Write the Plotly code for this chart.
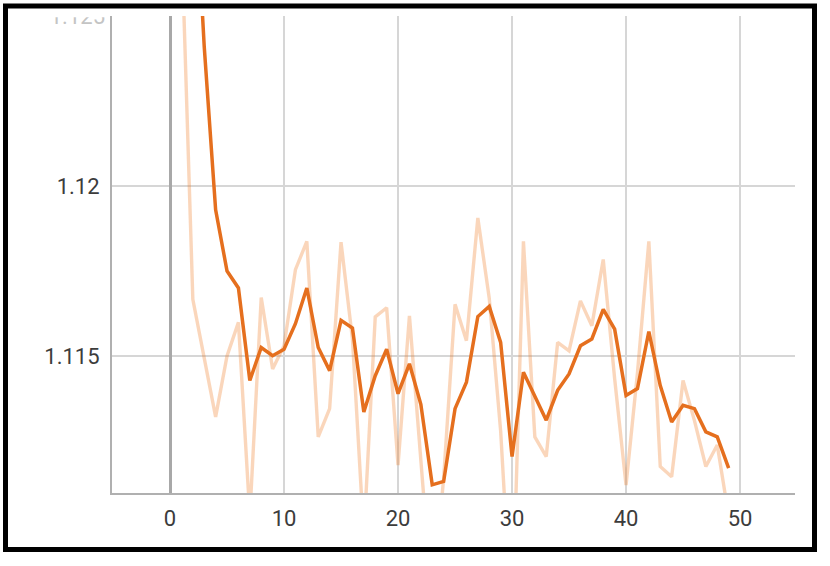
import plotly.graph_objects as go

steps = list(range(50))

raw_values = [1.1472, 1.1274, 1.11667, 1.1149, 1.11321, 1.1150, 1.11599, 1.1103, 1.11672, 1.11462,
              1.1153, 1.11754, 1.11837, 1.11262, 1.11345, 1.11835, 1.1155, 1.1097, 1.11615, 1.11642,
              1.11179, 1.11618, 1.1118, 1.1077, 1.1114, 1.11652, 1.11545, 1.11906, 1.1167, 1.1128,
              1.1070, 1.11837, 1.11262, 1.11204, 1.1154, 1.11515, 1.11662, 1.11589, 1.11784, 1.11433,
              1.1112, 1.1145, 1.11837, 1.11175, 1.11145, 1.11428, 1.1131, 1.11175, 1.11238, 1.1103]

smoothed_values = [1.1472, 1.1393, 1.1302, 1.1241, 1.1193, 1.1175, 1.1170, 1.11428, 1.11525, 1.11501,
                   1.1152, 1.11595, 1.1170, 1.11525, 1.11457, 1.11605, 1.11582, 1.11335, 1.11442, 1.1152,
                   1.11389, 1.11477, 1.11358, 1.11121, 1.11131, 1.11345, 1.11423, 1.11616, 1.11646, 1.1154,
                   1.11204, 1.11452, 1.11384, 1.11311, 1.11399, 1.11447, 1.1153, 1.1155, 1.11637, 1.11579,
                   1.11384, 1.11404, 1.11572, 1.11413, 1.11306, 1.11355, 1.11345, 1.11277, 1.11262, 1.1117]

x_ticks = [0, 10, 20, 30, 40, 50]
y_ticks = [1.115, 1.12]
y_ticks_faded = [1.125]
y_tick_labels = ["1.115", "1.12"]

W, H = 830, 566
L, R, T, B = 112, 35, 16, 73
pw, ph = W - L - R, H - T - B

def px_x(p):
    return (p - L) / pw

def px_y(p):
    return (H - B - p) / ph

fig = go.Figure()
fig.add_trace(go.Scatter(x=steps, y=raw_values, mode="lines",
                         line=dict(color="rgba(240,120,30,0.30)", width=3.4),
                         showlegend=False, hoverinfo="skip"))
fig.add_trace(go.Scatter(x=steps, y=smoothed_values, mode="lines",
                         line=dict(color="#e56f1e", width=3.5),
                         showlegend=False))

yr = [1.11097, 1.125]
font = dict(family="Roboto, sans-serif", size=22, color="#3c3c3c")

fig.update_layout(
    width=W, height=H,
    margin=dict(l=L, r=R, t=T, b=B, pad=0, autoexpand=False),
    paper_bgcolor="white", plot_bgcolor="white",
    font=font,
    showlegend=False,
    xaxis=dict(range=[-5.09, 54.82], tickvals=x_ticks, ticktext=[str(v) for v in x_ticks],
               showgrid=True, gridcolor="#d6d6d6", gridwidth=2,
               zeroline=True, zerolinecolor="#a8a8a8", zerolinewidth=2.5,
               showline=True, linecolor="#b0b0b0", linewidth=2, automargin=False,
               ticks="", ticklabelstandoff=5, tickfont=font),
    yaxis=dict(range=yr, tickvals=y_ticks, ticktext=y_tick_labels,
               showgrid=True, gridcolor="#d6d6d6", gridwidth=2, automargin=False,
               zeroline=False, showline=True, linecolor="#b0b0b0", linewidth=2,
               ticks="", ticklabelstandoff=6, tickfont=font),
    yaxis2=dict(range=yr, overlaying="y", side="left", tickvals=y_ticks_faded,
                ticktext=["1.125"], showgrid=True, gridcolor="#d6d6d6", gridwidth=2,
                zeroline=False, showline=False, ticks="", ticklabelstandoff=6, automargin=False,
                tickfont=dict(family="Roboto, sans-serif", size=22, color="#c4c4c4")),
    shapes=[
        dict(type="rect", xref="paper", yref="paper", layer="above",
             x0=px_x(8), x1=px_x(110), y0=px_y(17.3), y1=px_y(0),
             fillcolor="white", line=dict(width=0)),
        dict(type="rect", xref="paper", yref="paper", layer="above",
             x0=px_x(5.5), x1=px_x(814.5), y0=px_y(549.5), y1=px_y(6),
             fillcolor="rgba(0,0,0,0)", line=dict(color="black", width=5)),
    ],
)
fig.add_trace(go.Scatter(x=[None], y=[None], yaxis="y2", showlegend=False, hoverinfo="skip"))

fig.write_html("out.html",
               config={"displayModeBar": False},
               post_script="document.body.style.margin='0';document.body.style.padding='0';")
